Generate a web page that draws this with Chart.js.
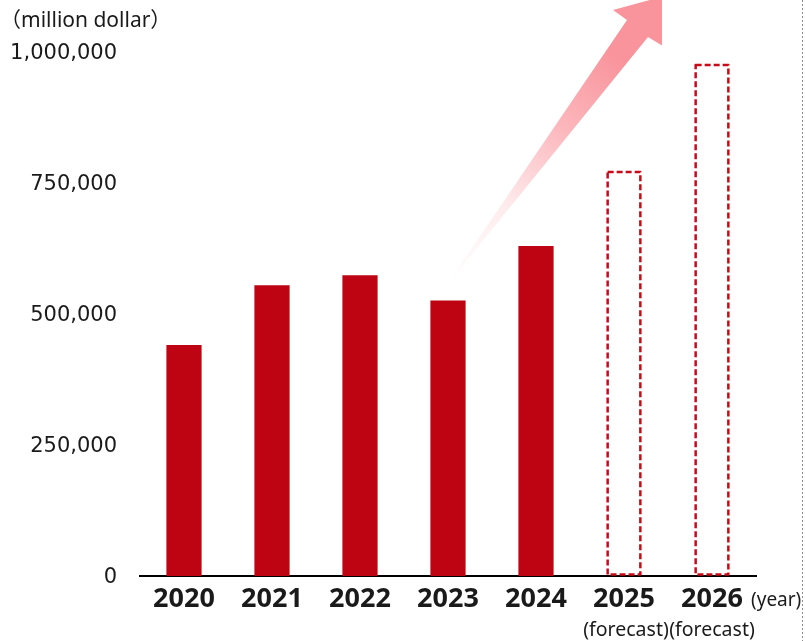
<!DOCTYPE html>
<html>
<head>
<meta charset="utf-8">
<script src="https://cdn.jsdelivr.net/npm/chart.js@4.4.1/dist/chart.umd.min.js"></script>
<style>
    html, body { margin: 0; padding: 0; background: #fff; }
    canvas { display: block; }
</style>
</head>
<body>
<canvas id="marketChart" width="805" height="641" style="width:805px;height:641px"></canvas>
<script>
// Chart data
const years = ['2020', '2021', '2022', '2023', '2024', '2025', '2026'];
const actualValues = [441000, 555000, 574000, 526000, 630000, null, null];
const forecastValues = [null, null, null, null, null, 771000, 975000];
const yTicks = [0, 250000, 500000, 750000, 1000000];
const unitLabel = '（million dollar）';
const yearLabel = '(year)';
const forecastNote = '(forecast)';

const barRed = '#be0412';
const dashRed = '#c90a18';
const textColor = '#1a1a1a';

// Draws the arrow, the dashed outline of the forecast bars and the extra texts
const decorPlugin = {
    id: 'decor',
    beforeDatasetsDraw(chart) {
        const ctx = chart.ctx;
        const xs = chart.scales.x;
        const ys = chart.scales.y;
        const p = (i, v) => [xs.getPixelForValue(i), ys.getPixelForValue(v)];

        // rising arrow, placed in data units
        const tail = p(2.99, 556000);
        const pts = [
            tail,
            p(5.034, 1061000),
            p(4.875, 1080000),
            p(5.70, 1118000),
            p(5.55, 1000000),
            p(5.273, 1028600)
        ];
        const head = p(5.2, 1045000);
        const grad = ctx.createLinearGradient(tail[0], tail[1], head[0], head[1]);
        grad.addColorStop(0, 'rgba(250,150,158,0)');
        grad.addColorStop(0.3, 'rgba(250,150,158,0.18)');
        grad.addColorStop(0.6, 'rgba(250,150,158,0.68)');
        grad.addColorStop(0.88, 'rgba(249,148,156,1)');
        grad.addColorStop(1, 'rgba(249,148,156,1)');

        ctx.save();
        ctx.beginPath();
        ctx.rect(0, 0, xs.getPixelForValue(5.432), chart.height);
        ctx.clip();
        ctx.beginPath();
        pts.forEach((pt, k) => k ? ctx.lineTo(pt[0], pt[1]) : ctx.moveTo(pt[0], pt[1]));
        ctx.closePath();
        ctx.fillStyle = grad;
        ctx.fill();
        ctx.restore();
    },
    afterDatasetsDraw(chart) {
        const ctx = chart.ctx;
        const xs = chart.scales.x;
        const meta = chart.getDatasetMeta(1);

        ctx.save();
        ctx.strokeStyle = dashRed;
        ctx.lineWidth = 2.5;
        ctx.setLineDash([6, 3]);
        ctx.lineJoin = 'round';
        meta.data.forEach((bar, i) => {
            if (forecastValues[i] == null) return;
            const { x, y, base, width } = bar.getProps(['x', 'y', 'base', 'width'], true);
            ctx.strokeRect(x - width / 2 + 1.25, y, width - 2.5, base - y - 1.5);
        });
        ctx.restore();

        ctx.save();
        ctx.fillStyle = textColor;
        ctx.textBaseline = 'middle';
        ctx.textAlign = 'left';
        ctx.font = '21px "Noto Sans", "Noto Sans CJK JP"';
        ctx.fillText(unitLabel, 0, 21);
        ctx.font = '19px "Noto Sans"';
        ctx.fillText(yearLabel, 751, 601);
        ctx.font = '19.5px "Noto Sans"';
        ctx.textAlign = 'center';
        forecastValues.forEach((v, i) => {
            if (v == null) return;
            ctx.fillText(forecastNote, xs.getPixelForValue(i) + (i === 5 ? 2 : 0), 630);
        });

        // dotted frame line at the right edge
        ctx.strokeStyle = '#8a8a8a';
        ctx.lineWidth = 1;
        ctx.setLineDash([2, 2]);
        ctx.beginPath();
        ctx.moveTo(802.5, 0);
        ctx.lineTo(802.5, chart.height);
        ctx.stroke();
        ctx.restore();
    }
};

const ctx = document.getElementById('marketChart').getContext('2d');
const marketChart = new Chart(ctx, {
    type: 'bar',
    data: {
        labels: years,
        datasets: [{
            label: 'Actual',
            data: actualValues,
            backgroundColor: barRed,
            borderWidth: 0,
            grouped: false,
            barPercentage: 0.4,
            categoryPercentage: 1.0
        }, {
            label: 'Forecast',
            data: forecastValues,
            backgroundColor: 'rgba(0,0,0,0)',
            borderWidth: 0,
            grouped: false,
            barPercentage: 0.4,
            categoryPercentage: 1.0
        }]
    },
    options: {
        responsive: false,
        animation: false,
        layout: {
            padding: { top: 52, right: 49, left: 0, bottom: 0 }
        },
        plugins: {
            legend: { display: false },
            tooltip: { enabled: false }
        },
        scales: {
            x: {
                grid: { display: false, drawTicks: false },
                border: { display: true, color: '#000', width: 2 },
                ticks: {
                    color: textColor,
                    font: { family: '"Noto Sans"', size: 27, weight: 'bold' },
                    padding: 7,
                    maxRotation: 0,
                    autoSkip: false
                },
                afterFit(scale) { scale.height = 65; }
            },
            y: {
                min: 0,
                max: 1000000,
                grid: { display: false, drawTicks: false },
                border: { display: false },
                ticks: {
                    color: textColor,
                    font: { family: '"DejaVu Sans"', size: 21 },
                    padding: 23,
                    labelOffset: 2,
                    callback: v => v.toLocaleString('en-US')
                },
                afterBuildTicks(scale) {
                    scale.ticks = yTicks.map(v => ({ value: v }));
                },
                afterFit(scale) { scale.width = 140; }
            }
        }
    },
    plugins: [decorPlugin]
});
</script>
</body>
</html>
